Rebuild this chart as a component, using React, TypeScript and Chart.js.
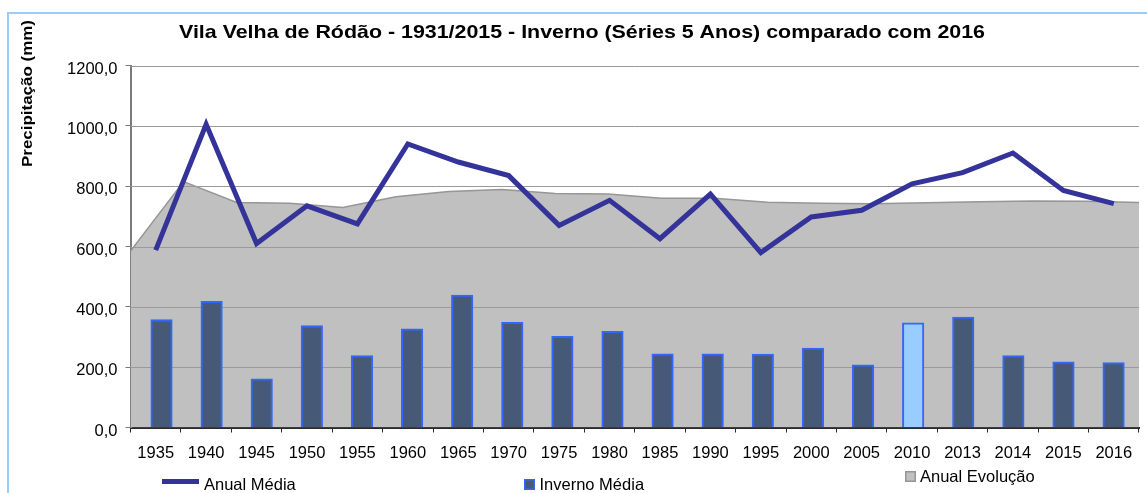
import React, { useEffect, useRef } from "react";
import { Chart, registerables } from "chart.js";

Chart.register(...registerables);

// ---------- data ----------
const years = ["1935", "1940", "1945", "1950", "1955", "1960", "1965", "1970", "1975", "1980",
  "1985", "1990", "1995", "2000", "2005", "2010", "2013", "2014", "2015", "2016"];
const anualMedia = [588, 1005, 610, 735, 675, 940, 880, 835, 670, 753,
  626, 774, 580, 698, 720, 808, 845, 910, 786, 742];
const invernoMedia = [358, 418, 161, 338, 238, 327, 439, 349, 302, 319,
  244, 244, 243, 263, 208, 347, 366, 238, 218, 215];
const anualEvolucao = [585, 815, 746, 743, 729, 765, 782, 789, 776, 774,
  760, 760, 747, 743, 742, 745, 748, 751, 750, 746];
const highlightYear = "2010";
const yMin = 0;
const yMax = 1200;
const yStep = 200;

const titleText = "Vila Velha de Ródão - 1931/2015 - Inverno (Séries 5 Anos) comparado com 2016";
const yTitleText = "Precipitação (mm)";
const labelLine = "Anual Média";
const labelBar = "Inverno Média";
const labelArea = "Anual Evolução";

// ---------- styles ----------
const FONT = '"Liberation Sans", Arial, sans-serif';
const LINE_COLOR = "#333399";
const BAR_FILL = "#465a78";
const BAR_FILL_HL = "#99ccff";
const BAR_BORDER = "#3366ff";
const AREA_FILL = "#c0c0c0";
const AREA_BORDER = "#969696";
const GRID_COLOR = "#9a9a9a";

const fmt = (v: number) => v.toFixed(1).replace(".", ",");

const gridAfterArea = {
  id: "gridAfterArea",
  afterDatasetDraw(chart: any, args: any) {
    if (chart.data.datasets[args.index].label !== labelArea) return;
    const { ctx, chartArea } = chart;
    const ys = chart.scales.y;
    ctx.save();
    ctx.strokeStyle = GRID_COLOR;
    ctx.lineWidth = 1;
    for (let v = yMin + yStep; v <= yMax; v += yStep) {
      const py = Math.round(ys.getPixelForValue(v)) + 0.5;
      ctx.beginPath();
      ctx.moveTo(chartArea.left, py);
      ctx.lineTo(chartArea.right, py);
      ctx.stroke();
    }
    ctx.restore();
  },
};

// draws text stretched horizontally to a target width (reference text is wide-set)
function wideText(ctx: CanvasRenderingContext2D, text: string, x: number, y: number, targetWidth: number) {
  const w = ctx.measureText(text).width;
  const sx = targetWidth / w;
  ctx.save();
  ctx.translate(x, y);
  ctx.scale(sx, 1);
  ctx.fillText(text, 0, 0);
  ctx.restore();
}

const decorations = {
  id: "decorations",
  afterDraw(chart: any) {
    const { ctx } = chart;
    ctx.save();
    ctx.fillStyle = "#000";
    // title
    ctx.font = `bold 18.5px ${FONT}`;
    ctx.textAlign = "center";
    ctx.textBaseline = "middle";
    wideText(ctx, titleText, 582, 33, 806);
    // y title
    ctx.save();
    ctx.translate(28, 93.5);
    ctx.rotate(-Math.PI / 2);
    ctx.font = `bold 15.5px ${FONT}`;
    wideText(ctx, yTitleText, 0, 0, 147);
    ctx.restore();
    // legend
    ctx.font = `16.5px ${FONT}`;
    ctx.textAlign = "left";
    ctx.textBaseline = "middle";
    // line item
    ctx.strokeStyle = LINE_COLOR;
    ctx.lineWidth = 5;
    ctx.beginPath();
    ctx.moveTo(162, 481.5);
    ctx.lineTo(199, 481.5);
    ctx.stroke();
    ctx.fillStyle = "#000";
    ctx.fillText(labelLine, 204, 485);
    // bar item
    ctx.fillStyle = BAR_FILL;
    ctx.fillRect(524, 479, 11, 11);
    ctx.strokeStyle = BAR_BORDER;
    ctx.lineWidth = 1.5;
    ctx.strokeRect(524.75, 479.75, 9.5, 9.5);
    ctx.fillStyle = "#000";
    ctx.fillText(labelBar, 539.5, 485.5);
    // area item
    ctx.fillStyle = AREA_FILL;
    ctx.fillRect(905, 471, 11, 11);
    ctx.strokeStyle = AREA_BORDER;
    ctx.lineWidth = 1.5;
    ctx.strokeRect(905.75, 471.75, 9.5, 9.5);
    ctx.fillStyle = "#000";
    ctx.fillText(labelArea, 920, 477);
    ctx.restore();
  },
};

export default function App() {
  const ref = useRef<HTMLCanvasElement | null>(null);

  useEffect(() => {
    if (!ref.current) return;
    const n = years.length;
    const chart = new Chart(ref.current, {
      type: "bar",
      data: {
        labels: years,
        datasets: [
          {
            type: "line",
            label: labelLine,
            data: anualMedia,
            xAxisID: "x",
            borderColor: LINE_COLOR,
            borderWidth: 5,
            pointRadius: 0,
            tension: 0,
            fill: false,
            order: 1,
          } as any,
          {
            type: "bar",
            label: labelBar,
            data: invernoMedia.map((v, i) => ({ x: i, y: v })),
            xAxisID: "xb",
            backgroundColor: years.map((y) => (y === highlightYear ? BAR_FILL_HL : BAR_FILL)),
            borderColor: BAR_BORDER,
            borderWidth: 2,
            borderSkipped: "start",
            barThickness: 21.5,
            order: 2,
          } as any,
          {
            type: "line",
            label: labelArea,
            data: anualEvolucao.map((v, i) => ({ x: i, y: v })),
            xAxisID: "xa",
            borderColor: AREA_BORDER,
            borderWidth: 1.5,
            backgroundColor: AREA_FILL,
            pointRadius: 0,
            tension: 0,
            fill: "origin",
            order: 3,
          } as any,
        ],
      },
      options: {
        animation: false,
        responsive: false,
        devicePixelRatio: 1,
        layout: { padding: { top: 65.5, right: 8, left: 0, bottom: 0 } },
        plugins: {
          legend: { display: false },
          title: { display: false },
          tooltip: { enabled: false },
        },
        scales: {
          x: {
            type: "category",
            offset: true,
            border: { display: true, color: "#2a2a2a", width: 2 },
            grid: {
              display: true,
              offset: true,
              drawOnChartArea: false,
              drawTicks: true,
              tickLength: 5,
              color: "#2a2a2a",
              lineWidth: 1,
            },
            ticks: {
              color: "#000",
              font: { family: FONT, size: 16.5 },
              padding: 11,
              maxRotation: 0,
              autoSkip: false,
            },
            afterFit: (s: any) => {
              s.height = 65.5;
            },
          },
          xa: {
            type: "linear",
            display: false,
            offset: false,
            bounds: "data",
            min: 0,
            max: n - 1,
            grid: { offset: false },
          },
          xb: {
            type: "linear",
            display: false,
            offset: false,
            bounds: "data",
            min: -0.619,
            max: n - 1 + 0.507,
            grid: { offset: false },
          },
          y: {
            type: "linear",
            min: yMin,
            max: yMax,
            border: { display: true, color: "#7a7a7a", width: 2 },
            grid: {
              display: true,
              drawOnChartArea: false,
              drawTicks: true,
              tickLength: 5,
              color: "#7a7a7a",
            },
            ticks: {
              stepSize: yStep,
              color: "#000",
              font: { family: FONT, size: 16.5 },
              padding: 8,
              labelOffset: 3.5,
              callback: (v: any) => fmt(Number(v)),
            },
            afterFit: (s: any) => {
              s.width = 130.5;
            },
          },
        },
      } as any,
      plugins: [gridAfterArea, decorations],
    });
    return () => chart.destroy();
  }, []);

  return (
    <div style={{ position: "fixed", left: 0, top: 0, width: 1147, height: 493, overflow: "hidden", background: "#fff" }}>
      <div
        style={{
          position: "absolute",
          left: 7,
          top: 12,
          width: 1200,
          height: 600,
          borderLeft: "2px solid #99ccff",
          borderTop: "2px solid #99ccff",
        }}
      />
      <canvas ref={ref} width={1147} height={493} style={{ position: "absolute", left: 0, top: 0 }} />
    </div>
  );
}
